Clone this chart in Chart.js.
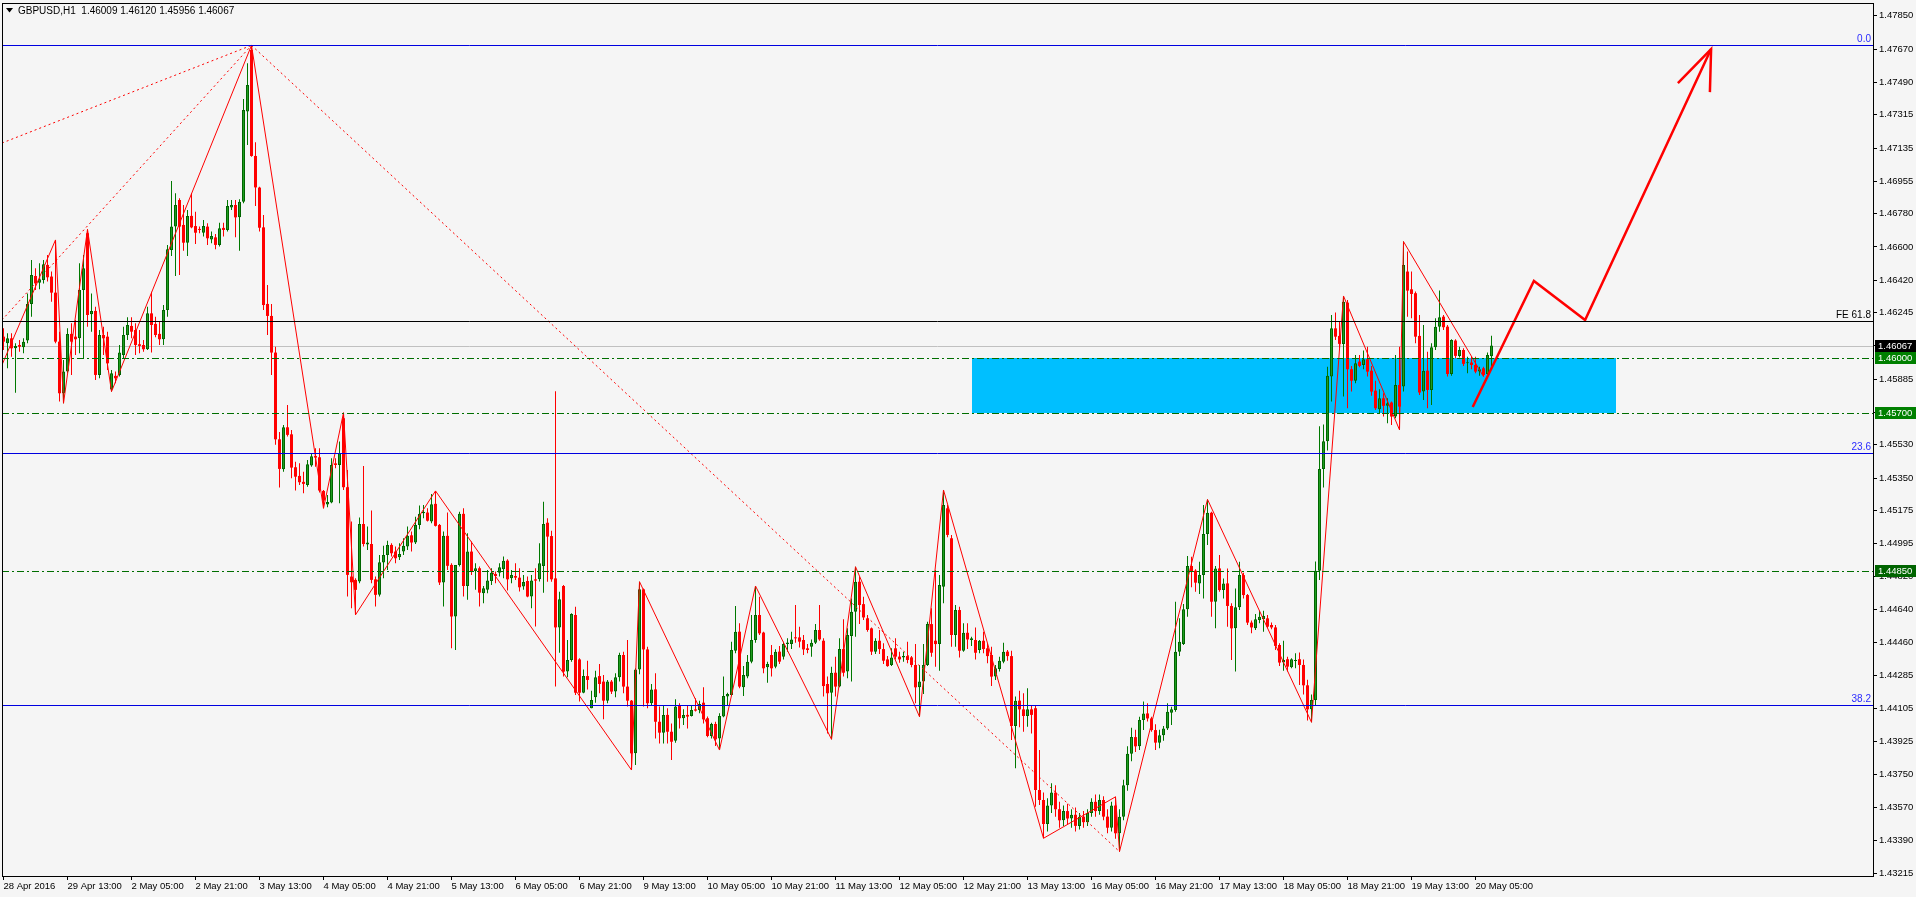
<!DOCTYPE html>
<html lang="en">
<head>
<meta charset="UTF-8" />
<title>GBPUSD,H1</title>
<script src="https://cdn.jsdelivr.net/npm/chart.js"></script>
<style>
  html, body { margin: 0; padding: 0; background: #f5f5f5; overflow: hidden; }
  canvas { display: block; }
</style>
</head>
<body>
<canvas id="chart" width="1916" height="897"></canvas>
<script>
// time axis: one label every 16 hourly bars
const timeLabels = ['28 Apr 2016', '29 Apr 13:00', '2 May 05:00', '2 May 21:00', '3 May 13:00', '4 May 05:00',
  '4 May 21:00', '5 May 13:00', '6 May 05:00', '6 May 21:00', '9 May 13:00', '10 May 05:00', '10 May 21:00',
  '11 May 13:00', '12 May 05:00', '12 May 21:00', '13 May 13:00', '16 May 05:00', '16 May 21:00', '17 May 13:00',
  '18 May 05:00', '18 May 21:00', '19 May 13:00', '20 May 05:00'];
const timeTickBars = [0, 16, 32, 48, 64, 80, 96, 112, 128, 144, 160, 176, 192, 208, 224, 240, 256, 272, 288, 304,
  320, 336, 352, 368];
const priceTicks = [1.47850, 1.47670, 1.47490, 1.47315, 1.47135, 1.46955, 1.46780, 1.46600, 1.46420, 1.46245,
  1.46065, 1.45885, 1.45705, 1.45530, 1.45350, 1.45175, 1.44995, 1.44820, 1.44640, 1.44460, 1.44285, 1.44105,
  1.43925, 1.43750, 1.43570, 1.43390, 1.43215];

// GBPUSD H1 candles, 28 Apr 21:00 .. 20 May 09:00
const opens = [
  1.46115,1.46079,1.46106,1.46052,1.46070,1.46058,1.46094,1.46292,1.46443,1.46407,
  1.46422,1.46503,1.46440,1.46353,1.46088,1.45809,1.45926,1.46130,1.46115,1.46106,
  1.46367,1.46674,1.46236,1.46254,1.45908,1.46124,1.46115,1.45830,1.45903,1.45908,
  1.46016,1.46124,1.46173,1.46151,1.46074,1.46070,1.46047,1.46241,1.46184,1.46130,
  1.46101,1.46259,1.46584,1.46710,1.46854,1.46719,1.46623,1.46768,1.46713,1.46695,
  1.46677,1.46710,1.46641,1.46652,1.46611,1.46703,1.46692,1.46814,1.46827,1.46760,
  1.46845,1.47332,1.47665,1.47092,1.46921,1.46706,1.46292,1.46227,1.46029,1.45560,
  1.45398,1.45625,1.45587,1.45409,1.45362,1.45330,1.45313,1.45418,1.45470,1.45463,
  1.45281,1.45207,1.45218,1.45430,1.45421,1.45674,1.45301,1.44818,1.44800,1.44791,
  1.45102,1.44991,1.44994,1.44803,1.44719,1.44894,1.44935,1.44989,1.44953,1.44922,
  1.44953,1.44980,1.45041,1.45002,1.45097,1.45160,1.45164,1.45115,1.45211,1.45097,
  1.44786,1.45038,1.44881,1.44602,1.44881,1.45157,1.44767,1.44953,1.44848,1.44863,
  1.44728,1.44746,1.44794,1.44832,1.44839,1.44857,1.44904,1.44809,1.44821,1.44812,
  1.44764,1.44794,1.44710,1.44803,1.44803,1.44875,1.45109,1.45037,1.44808,1.44543,
  1.44767,1.44304,1.44367,1.44610,1.44370,1.44190,1.44280,1.44106,1.44165,1.44280,
  1.44250,1.44147,1.44250,1.44196,1.44273,1.44394,1.44223,1.44147,1.43862,1.44316,
  1.44749,1.44424,1.44133,1.44208,1.44033,1.43974,1.44070,1.43979,1.43930,1.44118,
  1.44052,1.44070,1.44064,1.44100,1.44097,1.44136,1.44052,1.43956,1.44021,1.43943,
  1.44061,1.44169,1.44178,1.44417,1.44520,1.44219,1.44277,1.44358,1.44475,1.44610,
  1.44515,1.44327,1.44394,1.44331,1.44412,1.44385,1.44453,1.44453,1.44489,1.44489,
  1.44475,1.44430,1.44439,1.44460,1.44529,1.44471,1.44237,1.44190,1.44298,1.44223,
  1.44426,1.44304,1.44496,1.44628,1.44790,1.44669,1.44592,1.44538,1.44412,1.44471,
  1.44426,1.44370,1.44340,1.44430,1.44385,1.44381,1.44388,1.44381,1.44340,1.44219,
  1.44250,1.44340,1.44561,1.44471,1.44453,1.44763,1.45187,1.45025,1.44502,1.44637,
  1.44417,1.44514,1.44475,1.44475,1.44421,1.44471,1.44430,1.44394,1.44277,1.44318,
  1.44358,1.44412,1.44388,1.44010,1.44147,1.44100,1.44064,1.44100,1.44106,1.43664,
  1.43610,1.43480,1.43580,1.43650,1.43560,1.43500,1.43550,1.43510,1.43530,1.43470,
  1.43520,1.43490,1.43540,1.43600,1.43550,1.43610,1.43520,1.43460,1.43580,1.43430,
  1.43520,1.43690,1.43860,1.43950,1.43900,1.44042,1.44078,1.44051,1.43988,1.43920,
  1.43960,1.43997,1.44082,1.44096,1.44412,1.44453,1.44641,1.44875,1.44850,1.44781,
  1.44826,1.45048,1.45163,1.44682,1.44862,1.44745,1.44781,1.44659,1.44538,1.44652,
  1.44826,1.44718,1.44569,1.44538,1.44583,1.44587,1.44592,1.44556,1.44543,1.44448,
  1.44353,1.44371,1.44327,1.44362,1.44371,1.44340,1.44230,1.44100,1.44150,1.44850,
  1.45400,1.45550,1.45899,1.46160,1.46119,1.46076,1.46299,1.45939,1.45877,1.45980,
  1.45962,1.45993,1.45931,1.45823,1.45723,1.45782,1.45741,1.45759,1.45683,1.45854,
  1.45845,1.46467,1.46371,1.46350,1.46119,1.45818,1.45931,1.45827,1.46058,1.46169,
  1.46223,1.46169,1.45913,1.46094,1.46011,1.46043,1.45971,1.45975,1.45962,1.45926,
  1.45944,1.45913,1.46009];
const highs = [
  1.46160,1.46133,1.46133,1.46079,1.46097,1.46106,1.46349,1.46530,1.46485,1.46512,
  1.46530,1.46557,1.46467,1.46638,1.46142,1.45989,1.46160,1.46187,1.46205,1.46512,
  1.46557,1.46695,1.46349,1.46277,1.46151,1.46169,1.46142,1.45935,1.45926,1.46070,
  1.46169,1.46220,1.46220,1.46187,1.46151,1.46097,1.46277,1.46358,1.46223,1.46196,
  1.46286,1.46611,1.46957,1.46890,1.46863,1.46827,1.46800,1.46890,1.46791,1.46710,
  1.46746,1.46728,1.46683,1.46670,1.46731,1.46731,1.46854,1.46854,1.46854,1.46858,
  1.47400,1.47593,1.47690,1.47166,1.46926,1.46773,1.46394,1.46292,1.46060,1.45600,
  1.45638,1.45746,1.45611,1.45439,1.45430,1.45385,1.45448,1.45485,1.45512,1.45512,
  1.45286,1.45259,1.45457,1.45457,1.45548,1.45704,1.45394,1.45115,1.44809,1.45137,
  1.45416,1.45088,1.45175,1.44818,1.44935,1.44984,1.45011,1.44998,1.44980,1.44998,
  1.45025,1.45088,1.45061,1.45142,1.45202,1.45205,1.45187,1.45265,1.45281,1.45102,
  1.45061,1.45164,1.44890,1.44881,1.45169,1.45187,1.45052,1.45007,1.44890,1.44872,
  1.44767,1.44854,1.44863,1.44845,1.44890,1.44926,1.44912,1.44854,1.44890,1.44863,
  1.44827,1.44818,1.44827,1.44863,1.44998,1.45223,1.45133,1.45066,1.45820,1.44736,
  1.44772,1.44475,1.44619,1.44655,1.44376,1.44316,1.44363,1.44201,1.44309,1.44345,
  1.44286,1.44259,1.44259,1.44295,1.44406,1.44412,1.44475,1.44151,1.44322,1.44790,
  1.44754,1.44439,1.44237,1.44295,1.44115,1.44124,1.44106,1.44024,1.44154,1.44133,
  1.44100,1.44124,1.44118,1.44160,1.44147,1.44219,1.44061,1.44028,1.44033,1.44079,
  1.44277,1.44190,1.44466,1.44659,1.44565,1.44334,1.44394,1.44610,1.44767,1.44709,
  1.44520,1.44358,1.44448,1.44425,1.44443,1.44466,1.44484,1.44520,1.44664,1.44547,
  1.44502,1.44453,1.44478,1.44561,1.44664,1.44484,1.44277,1.44331,1.44385,1.44484,
  1.44587,1.44538,1.44700,1.44871,1.44817,1.44709,1.44610,1.44543,1.44484,1.44529,
  1.44457,1.44388,1.44430,1.44484,1.44412,1.44412,1.44466,1.44388,1.44453,1.44340,
  1.44453,1.44574,1.44646,1.44853,1.44826,1.45286,1.45205,1.45043,1.44664,1.44655,
  1.44565,1.44565,1.44493,1.44543,1.44475,1.44520,1.44457,1.44439,1.44340,1.44385,
  1.44460,1.44421,1.44417,1.44169,1.44201,1.44187,1.44214,1.44124,1.44124,1.43880,
  1.43650,1.43620,1.43700,1.43690,1.43600,1.43580,1.43590,1.43560,1.43570,1.43540,
  1.43550,1.43560,1.43620,1.43640,1.43640,1.43630,1.43560,1.43600,1.43627,1.43560,
  1.43720,1.43900,1.44000,1.43990,1.44060,1.44142,1.44133,1.44060,1.44020,1.43990,
  1.44010,1.44133,1.44114,1.44682,1.44592,1.44670,1.44929,1.44925,1.44857,1.44898,
  1.45205,1.45235,1.45169,1.44875,1.44934,1.44808,1.44862,1.44673,1.44754,1.44898,
  1.44839,1.44724,1.44580,1.44615,1.44633,1.44633,1.44610,1.44569,1.44556,1.44457,
  1.44471,1.44385,1.44376,1.44403,1.44407,1.44370,1.44260,1.44180,1.44900,1.45630,
  1.45640,1.45953,1.46232,1.46245,1.46196,1.46335,1.46313,1.45957,1.46016,1.46016,
  1.46040,1.46061,1.45957,1.45877,1.45831,1.45809,1.45782,1.45764,1.46016,1.46061,
  1.46629,1.46575,1.46467,1.46359,1.46232,1.46178,1.46034,1.46079,1.46214,1.46364,
  1.46232,1.46178,1.46101,1.46101,1.46061,1.46052,1.46007,1.46007,1.46007,1.45953,
  1.45953,1.46029,1.46120];
const lows = [
  1.46043,1.45944,1.46007,1.45812,1.46034,1.46025,1.46079,1.46223,1.46367,1.46371,
  1.46403,1.46413,1.46304,1.46079,1.45764,1.45755,1.45917,1.45908,1.46016,1.46025,
  1.45998,1.46169,1.46142,1.45881,1.45890,1.46016,1.45935,1.45818,1.45863,1.45899,
  1.45998,1.46097,1.46106,1.46016,1.46025,1.46034,1.46043,1.46029,1.46112,1.46070,
  1.46070,1.46223,1.46551,1.46443,1.46449,1.46580,1.46551,1.46701,1.46616,1.46674,
  1.46656,1.46611,1.46620,1.46587,1.46602,1.46656,1.46683,1.46800,1.46652,1.46580,
  1.46836,1.47151,1.47088,1.46822,1.46683,1.46259,1.46124,1.45908,1.45530,1.45300,
  1.45385,1.45575,1.45349,1.45283,1.45313,1.45268,1.45304,1.45412,1.45412,1.45272,
  1.45187,1.45193,1.45214,1.45403,1.45214,1.45286,1.44710,1.44647,1.44611,1.44782,
  1.44980,1.44962,1.44782,1.44656,1.44710,1.44809,1.44854,1.44926,1.44890,1.44908,
  1.44935,1.44962,1.44953,1.44994,1.45074,1.45133,1.45115,1.45106,1.45088,1.44773,
  1.44656,1.44854,1.44430,1.44421,1.44872,1.44710,1.44692,1.44827,1.44746,1.44656,
  1.44674,1.44728,1.44773,1.44782,1.44818,1.44809,1.44742,1.44782,1.44800,1.44737,
  1.44746,1.44706,1.44647,1.44548,1.44791,1.44731,1.44790,1.44790,1.44223,1.44406,
  1.44277,1.44273,1.44358,1.44178,1.44142,1.44187,1.44208,1.44106,1.44136,1.44187,
  1.44046,1.44133,1.44183,1.44165,1.44250,1.44187,1.44115,1.43772,1.43799,1.44290,
  1.44115,1.44106,1.44124,1.43943,1.43916,1.43916,1.43916,1.43826,1.43920,1.43997,
  1.44015,1.43997,1.44061,1.44088,1.44079,1.44024,1.43949,1.43943,1.43902,1.43880,
  1.44057,1.44124,1.44172,1.44403,1.44214,1.44172,1.44268,1.44349,1.44460,1.44502,
  1.44295,1.44244,1.44277,1.44322,1.44345,1.44370,1.44412,1.44426,1.44460,1.44435,
  1.44394,1.44403,1.44385,1.44453,1.44471,1.44169,1.43969,1.43938,1.44169,1.44219,
  1.44277,1.44268,1.44250,1.44493,1.44561,1.44583,1.44520,1.44394,1.44399,1.44399,
  1.44345,1.44331,1.44334,1.44370,1.44352,1.44358,1.44349,1.44327,1.44133,1.44060,
  1.44183,1.44334,1.44385,1.44331,1.44309,1.44673,1.45030,1.44439,1.44439,1.44381,
  1.44412,1.44426,1.44442,1.44370,1.44403,1.44403,1.44349,1.44226,1.44259,1.44304,
  1.44349,1.44363,1.43934,1.43781,1.44003,1.43979,1.44006,1.43970,1.43574,1.43583,
  1.43403,1.43440,1.43540,1.43520,1.43460,1.43470,1.43480,1.43460,1.43440,1.43450,
  1.43460,1.43470,1.43520,1.43520,1.43530,1.43500,1.43430,1.43440,1.43400,1.43331,
  1.43500,1.43660,1.43820,1.43870,1.43880,1.43988,1.44034,1.43979,1.43880,1.43890,
  1.43930,1.43988,1.44015,1.44087,1.44389,1.44448,1.44601,1.44760,1.44736,1.44724,
  1.44700,1.44989,1.44601,1.44538,1.44736,1.44700,1.44547,1.44367,1.44304,1.44637,
  1.44700,1.44556,1.44511,1.44529,1.44565,1.44520,1.44538,1.44533,1.44421,1.44335,
  1.44309,1.44304,1.44322,1.44322,1.44232,1.44180,1.44040,1.44030,1.44120,1.44800,
  1.45300,1.45500,1.45764,1.46097,1.46052,1.45791,1.45728,1.45818,1.45863,1.45949,
  1.45939,1.45899,1.45795,1.45719,1.45697,1.45683,1.45647,1.45638,1.45674,1.45611,
  1.45818,1.46223,1.46214,1.46079,1.45800,1.45773,1.45728,1.45746,1.46043,1.46142,
  1.46151,1.45899,1.45903,1.45998,1.46003,1.45957,1.45917,1.45939,1.45917,1.45903,
  1.45899,1.45908,1.45956];
const closes = [
  1.46088,1.46106,1.46052,1.46065,1.46061,1.46088,1.46292,1.46449,1.46403,1.46425,
  1.46506,1.46436,1.46353,1.46088,1.45809,1.45926,1.46130,1.46088,1.46101,1.46367,
  1.46485,1.46232,1.46254,1.45908,1.46124,1.46106,1.45971,1.45917,1.45890,1.46029,
  1.46124,1.46178,1.46142,1.46070,1.46065,1.46047,1.46241,1.46178,1.46124,1.46101,
  1.46259,1.46587,1.46710,1.46827,1.46710,1.46623,1.46768,1.46706,1.46677,1.46692,
  1.46713,1.46647,1.46659,1.46611,1.46701,1.46692,1.46822,1.46827,1.46760,1.46845,
  1.47341,1.47476,1.47092,1.46922,1.46704,1.46286,1.46227,1.46029,1.45560,1.45400,
  1.45625,1.45584,1.45407,1.45358,1.45328,1.45319,1.45425,1.45468,1.45461,1.45283,
  1.45229,1.45221,1.45421,1.45421,1.45485,1.45301,1.44827,1.44787,1.44746,1.45102,
  1.44994,1.45002,1.44800,1.44719,1.44895,1.44935,1.44989,1.44944,1.44917,1.44940,
  1.44984,1.45038,1.45002,1.45097,1.45157,1.45167,1.45120,1.45209,1.45092,1.44786,
  1.45038,1.44876,1.44602,1.44881,1.45157,1.44767,1.44953,1.44845,1.44863,1.44731,
  1.44755,1.44796,1.44839,1.44821,1.44868,1.44903,1.44803,1.44827,1.44812,1.44760,
  1.44789,1.44710,1.44796,1.44796,1.44890,1.45102,1.45034,1.44803,1.44543,1.44695,
  1.44304,1.44367,1.44615,1.44190,1.44190,1.44280,1.44259,1.44151,1.44273,1.44237,
  1.44147,1.44250,1.44196,1.44273,1.44394,1.44223,1.44147,1.43862,1.44316,1.44749,
  1.44424,1.44133,1.44208,1.44033,1.43974,1.44070,1.43979,1.43925,1.44115,1.44052,
  1.44070,1.44061,1.44097,1.44093,1.44129,1.44046,1.43956,1.44021,1.43938,1.44064,
  1.44172,1.44183,1.44421,1.44520,1.44223,1.44286,1.44358,1.44475,1.44610,1.44511,
  1.44322,1.44345,1.44322,1.44412,1.44358,1.44453,1.44461,1.44478,1.44484,1.44466,
  1.44424,1.44421,1.44460,1.44529,1.44478,1.44226,1.44187,1.44298,1.44223,1.44426,
  1.44298,1.44502,1.44628,1.44790,1.44664,1.44597,1.44529,1.44412,1.44471,1.44426,
  1.44363,1.44334,1.44381,1.44385,1.44370,1.44388,1.44367,1.44340,1.44219,1.44250,
  1.44340,1.44561,1.44406,1.44453,1.44772,1.45205,1.45043,1.44502,1.44637,1.44417,
  1.44514,1.44478,1.44484,1.44406,1.44471,1.44426,1.44388,1.44277,1.44322,1.44363,
  1.44412,1.44388,1.44010,1.44147,1.44100,1.44064,1.44100,1.44070,1.43664,1.43610,
  1.43480,1.43580,1.43650,1.43560,1.43500,1.43550,1.43510,1.43530,1.43470,1.43520,
  1.43490,1.43540,1.43600,1.43550,1.43610,1.43520,1.43460,1.43580,1.43430,1.43520,
  1.43690,1.43860,1.43950,1.43900,1.44042,1.44078,1.44051,1.43988,1.43920,1.43960,
  1.43997,1.44087,1.44100,1.44412,1.44466,1.44641,1.44875,1.44844,1.44785,1.44826,
  1.45048,1.45163,1.44682,1.44862,1.44745,1.44781,1.44659,1.44538,1.44652,1.44826,
  1.44718,1.44569,1.44543,1.44587,1.44601,1.44605,1.44547,1.44543,1.44443,1.44353,
  1.44367,1.44331,1.44371,1.44367,1.44340,1.44230,1.44100,1.44150,1.44850,1.45400,
  1.45550,1.45903,1.46160,1.46115,1.46076,1.46304,1.45939,1.45877,1.45971,1.45957,
  1.45993,1.45926,1.45818,1.45728,1.45782,1.45741,1.45755,1.45683,1.45854,1.45737,
  1.46503,1.46364,1.46346,1.46115,1.45813,1.45931,1.45827,1.46058,1.46169,1.46220,
  1.46166,1.45913,1.46097,1.46011,1.46043,1.45968,1.45975,1.45962,1.45926,1.45939,
  1.45908,1.46016,1.46067];

// zigzag swing points (bar index, price)
const zigzagBars = [-2, 13, 15, 21, 27, 62, 80, 85, 88, 108, 157, 159, 179, 188, 207, 213, 229, 235,
  260, 278, 279, 301, 327, 335, 349, 350, 370];
const zigzagPrices = [1.45880, 1.46638, 1.45755, 1.46695, 1.45818, 1.47690, 1.45187, 1.45704, 1.44611, 1.45281,
  1.43772, 1.44790, 1.43880, 1.44767, 1.43938, 1.44871, 1.44060, 1.45286, 1.43403, 1.43627, 1.43331, 1.45235,
  1.44030, 1.46335, 1.45611, 1.46629, 1.45899];

// dotted fan lines
const fanStartBars = [-0.375, -0.375, 62];
const fanStartPrices = [1.47162, 1.46205, 1.47690];
const fanEndBars = [62, 62, 279];
const fanEndPrices = [1.47690, 1.47690, 1.43331];

// hand-drawn projection and its arrow head
const projectionBars = [367.3, 382.6, 395.4, 426.9];
const projectionPrices = [1.45735, 1.46416, 1.46205, 1.47670];
const arrowBars = [418.6, 426.9, 426.6];
const arrowPrices = [1.47486, 1.47670, 1.47437];

// levels
const fibNames = ['0.0', '23.6', '38.2'];
const fibPrices = [1.47690, 1.45484, 1.44122];
const expansionName = 'FE 61.8';
const expansionPrice = 1.46200;
const supportPrices = [1.46000, 1.45700, 1.44850];
const bidPrice = 1.46067;
const zoneBars = [242, 403];
const zonePrices = [1.45700, 1.46000];
const lastBar = { open: 1.46009, high: 1.46120, low: 1.45956, close: 1.46067 };

const UP_FILL = '#1f9d1f', UP_EDGE = '#006400', UP_WICK = '#007800', DOWN = '#ff0000';
const FONT = '"Liberation Sans", Arial, sans-serif';
const isUp = i => closes[i] >= opens[i];

const pts = (xs, ys) => xs.map((b, i) => ({ x: b, y: ys[i] }));

const datasets = [
  {
    label: 'wicks',
    data: highs.map((h, i) => ({ x: i, y: [lows[i], h] })),
    backgroundColor: ctx => isUp(ctx.dataIndex) ? UP_WICK : DOWN,
    barThickness: 1, minBarLength: 1, grouped: false, inflateAmount: 0, order: 4
  },
  {
    label: 'bodies',
    data: opens.map((o, i) => ({ x: i, y: [o, closes[i]] })),
    backgroundColor: ctx => isUp(ctx.dataIndex) ? UP_FILL : DOWN,
    borderColor: UP_EDGE,
    borderWidth: ctx => isUp(ctx.dataIndex) ? 1 : 0,
    borderSkipped: false,
    barThickness: 3, minBarLength: 1, grouped: false, inflateAmount: 0, order: 3
  },
  {
    type: 'line', label: 'zigzag', data: pts(zigzagBars, zigzagPrices),
    borderColor: '#ff0000', borderWidth: 1, pointRadius: 0, tension: 0, fill: false, order: 1
  },
  {
    type: 'line', label: 'projection', data: pts(projectionBars, projectionPrices),
    borderColor: '#ff0000', borderWidth: 2.5, pointRadius: 0, tension: 0, fill: false, order: 1
  },
  {
    type: 'line', label: 'arrow', data: pts(arrowBars, arrowPrices),
    borderColor: '#ff0000', borderWidth: 2.5, pointRadius: 0, tension: 0, fill: false, order: 1
  }
];
fanStartBars.forEach((b, i) => {
  datasets.push({
    type: 'line', label: 'fan' + i,
    data: [{ x: b, y: fanStartPrices[i] }, { x: fanEndBars[i], y: fanEndPrices[i] }],
    borderColor: '#ff0000', borderWidth: 1, borderDash: [2, 3], pointRadius: 0, fill: false, order: 2
  });
});

function hline(chart, price, color, dash) {
  const { ctx, chartArea: a, scales: { y } } = chart;
  const py = Math.round(y.getPixelForValue(price)) + 0.5;
  ctx.save();
  ctx.strokeStyle = color;
  ctx.lineWidth = 1;
  ctx.setLineDash(dash || []);
  ctx.beginPath();
  ctx.moveTo(a.left, py);
  ctx.lineTo(a.right, py);
  ctx.stroke();
  ctx.restore();
  return py;
}

function priceTag(chart, price, bg) {
  const { ctx, chartArea: a, scales: { y } } = chart;
  const py = Math.round(y.getPixelForValue(price));
  ctx.save();
  ctx.fillStyle = bg;
  ctx.fillRect(a.right + 2, py - 6, 41, 12);
  ctx.fillStyle = '#ffffff';
  ctx.font = '9.5px ' + FONT;
  ctx.textBaseline = 'middle';
  ctx.fillText(price.toFixed(5), a.right + 5, py + 0.5);
  ctx.restore();
}

const mtOverlay = {
  id: 'mtOverlay',
  beforeDraw(chart) {
    const { ctx, width, height } = chart;
    ctx.save();
    ctx.fillStyle = '#f5f5f5';
    ctx.fillRect(0, 0, width, height);
    ctx.restore();
  },
  beforeDatasetsDraw(chart) {
    const { ctx, scales: { x, y } } = chart;
    const x1 = Math.round(x.getPixelForValue(zoneBars[0]));
    const x2 = Math.round(x.getPixelForValue(zoneBars[1]));
    const y1 = Math.round(y.getPixelForValue(zonePrices[1]));
    const y2 = Math.round(y.getPixelForValue(zonePrices[0]));
    ctx.save();
    ctx.fillStyle = '#00bfff';
    ctx.fillRect(x1, y1, x2 - x1, y2 - y1);
    ctx.restore();
    hline(chart, bidPrice, '#c0c0c0');
  },
  afterDatasetsDraw(chart) {
    const { ctx, chartArea: a } = chart;
    supportPrices.forEach(p => hline(chart, p, '#006e00', [7, 3, 2, 3]));
    ctx.save();
    ctx.font = '10px ' + FONT;
    ctx.textAlign = 'right';
    ctx.textBaseline = 'bottom';
    fibPrices.forEach((p, i) => {
      const py = hline(chart, p, '#0000e0');
      ctx.fillStyle = '#2a2aff';
      ctx.fillText(fibNames[i], a.right - 2, py - 1);
    });
    const fy = hline(chart, expansionPrice, '#000000');
    ctx.fillStyle = '#000000';
    ctx.fillText(expansionName, a.right - 2, fy - 1);
    ctx.restore();
  },
  afterDraw(chart) {
    const { ctx, chartArea: a } = chart;
    ctx.save();
    ctx.strokeStyle = '#000000';
    ctx.lineWidth = 1;
    ctx.strokeRect(a.left + 0.5, a.top + 0.5, a.right - a.left, a.bottom - a.top);
    // title
    ctx.fillStyle = '#000000';
    ctx.beginPath();
    ctx.moveTo(6, 8); ctx.lineTo(13, 8); ctx.lineTo(9.5, 12.5); ctx.closePath();
    ctx.fill();
    ctx.font = '10px ' + FONT;
    ctx.textBaseline = 'middle';
    ctx.fillText('GBPUSD,H1  ' + [lastBar.open, lastBar.high, lastBar.low, lastBar.close]
      .map(v => v.toFixed(5)).join(' '), 18, 11);
    ctx.restore();
    priceTag(chart, bidPrice, '#000000');
    priceTag(chart, supportPrices[0], '#008000');
    priceTag(chart, supportPrices[1], '#008000');
    priceTag(chart, supportPrices[2], '#006400');
  }
};

new Chart(document.getElementById('chart'), {
  type: 'bar',
  data: { datasets },
  options: {
    responsive: false,
    devicePixelRatio: 1,
    animation: false,
    events: [],
    layout: { padding: { left: 2, top: 3, right: 0, bottom: 0 } },
    plugins: { legend: { display: false }, tooltip: { enabled: false } },
    scales: {
      x: {
        type: 'linear',
        min: -0.375,
        max: 467.375,
        offset: false,
        bounds: 'data',
        afterBuildTicks: s => { s.ticks = timeTickBars.map(v => ({ value: v })); },
        afterFit: s => { s.height = 21; },
        border: { display: false },
        grid: { display: true, drawOnChartArea: false, drawTicks: true, tickLength: 4, color: '#000000', offset: false },
        ticks: {
          autoSkip: false, maxRotation: 0, minRotation: 0, align: 'start', padding: 1,
          color: '#000000', font: { family: FONT, size: 9.5 },
          callback: (v, i) => timeLabels[i]
        }
      },
      y: {
        type: 'linear',
        position: 'right',
        min: 1.43199,
        max: 1.47919,
        bounds: 'data',
        afterBuildTicks: s => { s.ticks = priceTicks.map(v => ({ value: v })); },
        afterFit: s => { s.width = 43; },
        border: { display: false },
        grid: { display: true, drawOnChartArea: false, drawTicks: true, tickLength: 4, color: '#000000' },
        ticks: {
          padding: 2, color: '#000000', font: { family: FONT, size: 9.5, lineHeight: 0.2 },
          callback: v => v.toFixed(5)
        }
      }
    }
  },
  plugins: [mtOverlay]
});
</script>
</body>
</html>
